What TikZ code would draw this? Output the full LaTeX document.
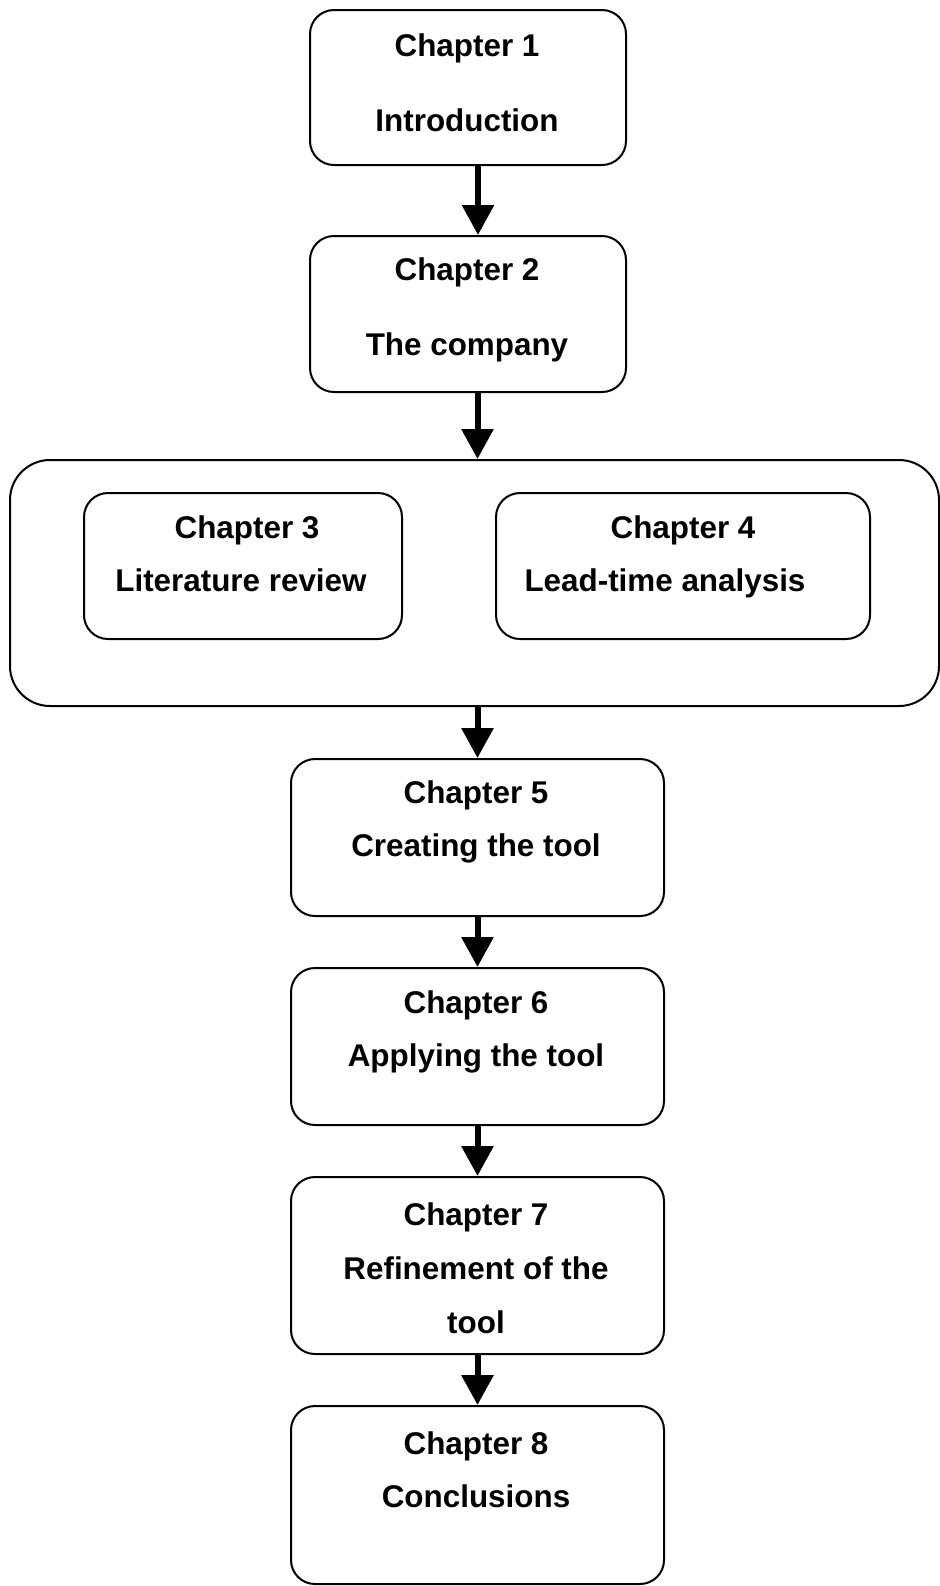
\documentclass[tikz,border=0pt]{standalone}
\usepackage{fontspec}
\setmainfont{Liberation Sans}
\usetikzlibrary{arrows.meta}

\begin{document}
\begin{tikzpicture}[x=0.5pt,y=-0.5pt,
    chbox/.style={draw,line width=1pt,rounded corners=12pt,inner sep=0pt},
    chtext/.style={align=center,font=\bfseries\fontsize{15.7}{26.5}\selectfont},
    arr/.style={line width=3pt,-{Triangle[length=15pt,width=15.5pt]}}]
    \useasboundingbox (0,0) rectangle (940,1586);
    % boxes
    \node[chbox,minimum width=158pt,minimum height=77.5pt] (ch1) at (468,87.5) {};
    \node[chbox,minimum width=158pt,minimum height=78pt] (ch2) at (468,314) {};
    \node[chbox,rounded corners=20pt,minimum width=464.5pt,minimum height=123pt] (lit) at (474.5,583) {};
    \node[chbox,minimum width=159pt,minimum height=73pt] (ch3) at (243,566) {};
    \node[chbox,minimum width=187pt,minimum height=73pt] (ch4) at (683,566) {};
    \node[chbox,minimum width=186.5pt,minimum height=78.5pt] (ch5) at (477.5,837.5) {};
    \node[chbox,minimum width=186.5pt,minimum height=78.5pt] (ch6) at (477.5,1046.5) {};
    \node[chbox,minimum width=186.5pt,minimum height=88.5pt] (ch7) at (477.5,1265.5) {};
    \node[chbox,minimum width=186.5pt,minimum height=89pt] (ch8) at (477.5,1495) {};
    % texts
    \node[chtext,font=\bfseries\fontsize{15.7}{37.5}\selectfont] (t1) at (467,83) {Chapter 1\\Introduction};
    \node[chtext,font=\bfseries\fontsize{15.7}{37.5}\selectfont] (t2) at (467,310) {Chapter 2\\The company};
    \node[chtext] (t3) at (241,553.5) {\hspace*{6pt}Chapter 3\\Literature review};
    \node[chtext] (t4) at (665,557) {\hspace*{18pt}Chapter 4\\Lead-time analysis};
    \node[chtext] (t5) at (476,822) {Chapter 5\\Creating the tool};
    \node[chtext] (t6) at (476,1032) {Chapter 6\\Applying the tool};
    \node[chtext,font=\bfseries\fontsize{15.7}{27}\selectfont] (t7) at (476,1268) {Chapter 7\\Refinement of the\\tool};
    \node[chtext] (t8) at (476,1470) {Chapter 8\\Conclusions};
    % arrows
    \draw[arr] ([xshift=5pt]ch1.south) -- ([xshift=5pt]ch2.north);
    \draw[arr] (ch2.south -| ch5.north) -- (lit.north -| ch5.north);
    \draw[arr] (lit.south -| ch5.north) -- (ch5.north);
    \draw[arr] (ch5.south) -- (ch6.north);
    \draw[arr] (ch6.south) -- (ch7.north);
    \draw[arr] (ch7.south) -- (ch8.north);
\end{tikzpicture}
\end{document}
